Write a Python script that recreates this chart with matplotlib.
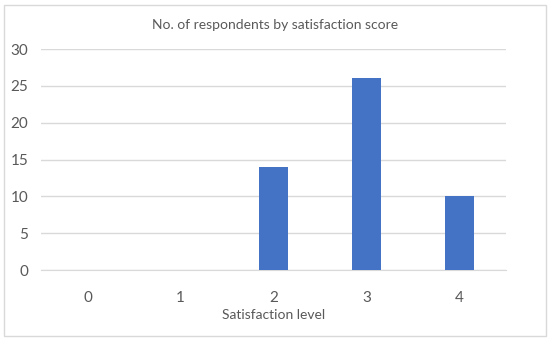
import matplotlib.pyplot as plt
from matplotlib.patches import Rectangle

levels = ['0', '1', '2', '3', '4']
counts = [0, 0, 14, 26, 10]
yticks = [0, 5, 10, 15, 20, 25, 30]

plt.rcParams['font.family'] = ['Lato', 'DejaVu Sans']

text_col = '#595959'
grid_col = '#d9d9d9'

fig = plt.figure(figsize=(5.5, 3.43), dpi=100)
ax = fig.add_axes([0.0745, 0.2128, 0.8455, 0.6443])

ax.bar(range(len(levels)), counts, width=0.32, color='#4472C4', zorder=3)

ax.set_xlim(-0.5, len(levels) - 0.5)
ax.set_ylim(0, 30)
ax.set_yticks(yticks)
ax.set_xticks(range(len(levels)))
ax.set_xticklabels(levels)
ax.yaxis.grid(True, color=grid_col, linewidth=1)
ax.set_axisbelow(True)
for s in ['top', 'right', 'left']:
    ax.spines[s].set_visible(False)
ax.spines['bottom'].set_color(grid_col)
ax.tick_params(length=0, labelsize=11, colors=text_col)
ax.tick_params(axis='x', pad=15)
ax.tick_params(axis='y', pad=9)

ax.set_xlabel('Satisfaction level', fontsize=10, color=text_col, labelpad=3)
fig.text(0.5, 0.927, 'No. of respondents by satisfaction score', ha='center', va='center',
         fontsize=10, color=text_col)

fig.patches.append(Rectangle((0.008, 0.02), 0.984, 0.965, transform=fig.transFigure,
                             fill=False, edgecolor=grid_col, linewidth=1))

fig.savefig('out.png', dpi=100)
